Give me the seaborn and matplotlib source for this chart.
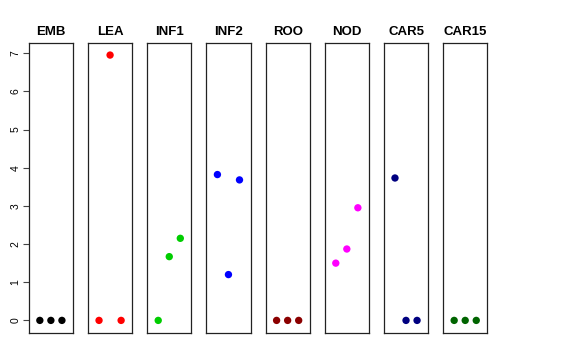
import matplotlib
matplotlib.use("Agg")
import matplotlib.pyplot as plt
import seaborn as sns
import pandas as pd

tissues = ["EMB", "LEA", "INF1", "INF2", "ROO", "NOD", "CAR5", "CAR15"]
colors = ["#000000", "#FF0000", "#00CD00", "#0000FF", "#8B0000", "#FF00FF", "#000080", "#006400"]
rep1 = [0, 0, 0, 3.82, 0, 1.50, 3.73, 0]
rep2 = [0, 6.95, 1.67, 1.20, 0, 1.87, 0, 0]
rep3 = [0, 0, 2.15, 3.68, 0, 2.95, 0, 0]
yticks = [0, 1, 2, 3, 4, 5, 6, 7]

rows = []
for i, t in enumerate(tissues):
    for r, vals in enumerate([rep1, rep2, rep3]):
        rows.append({"tissue": t, "rep": r + 1, "value": vals[i]})
df = pd.DataFrame(rows)

sns.set_style("white")
plt.rcParams["font.family"] = ["Liberation Sans", "DejaVu Sans"]

fig, axes = plt.subplots(1, len(tissues), figsize=(5.76, 3.6), dpi=100, sharey=True)
fig.subplots_adjust(left=0.050, right=0.846, top=0.881, bottom=0.075, wspace=0.34)

for i, (ax, t) in enumerate(zip(axes, tissues)):
    sub = df[df["tissue"] == t]
    sns.scatterplot(data=sub, x="rep", y="value", ax=ax, color=colors[i],
                    s=28, edgecolor="none", linewidth=0, legend=False)
    ax.set_xlim(0, 4)
    ax.set_ylim(-0.33, 7.27)
    ax.set_xticks([])
    ax.set_xlabel("")
    ax.set_ylabel("")
    ax.set_title(t, fontsize=9.5, fontweight="bold", pad=6, color="black")
    for sp in ax.spines.values():
        sp.set_visible(True)
        sp.set_color("#222222")
        sp.set_linewidth(0.9)
    if i == 0:
        ax.set_yticks(yticks)
        ax.set_yticklabels([str(v) for v in yticks], rotation=90, va="center", fontsize=7.5, color="black")
        ax.tick_params(axis="y", left=True, length=4, width=0.8, color="#444444", pad=2)
    else:
        ax.tick_params(axis="y", left=False, labelleft=False)

fig.savefig("out.png", dpi=100, facecolor="white")
